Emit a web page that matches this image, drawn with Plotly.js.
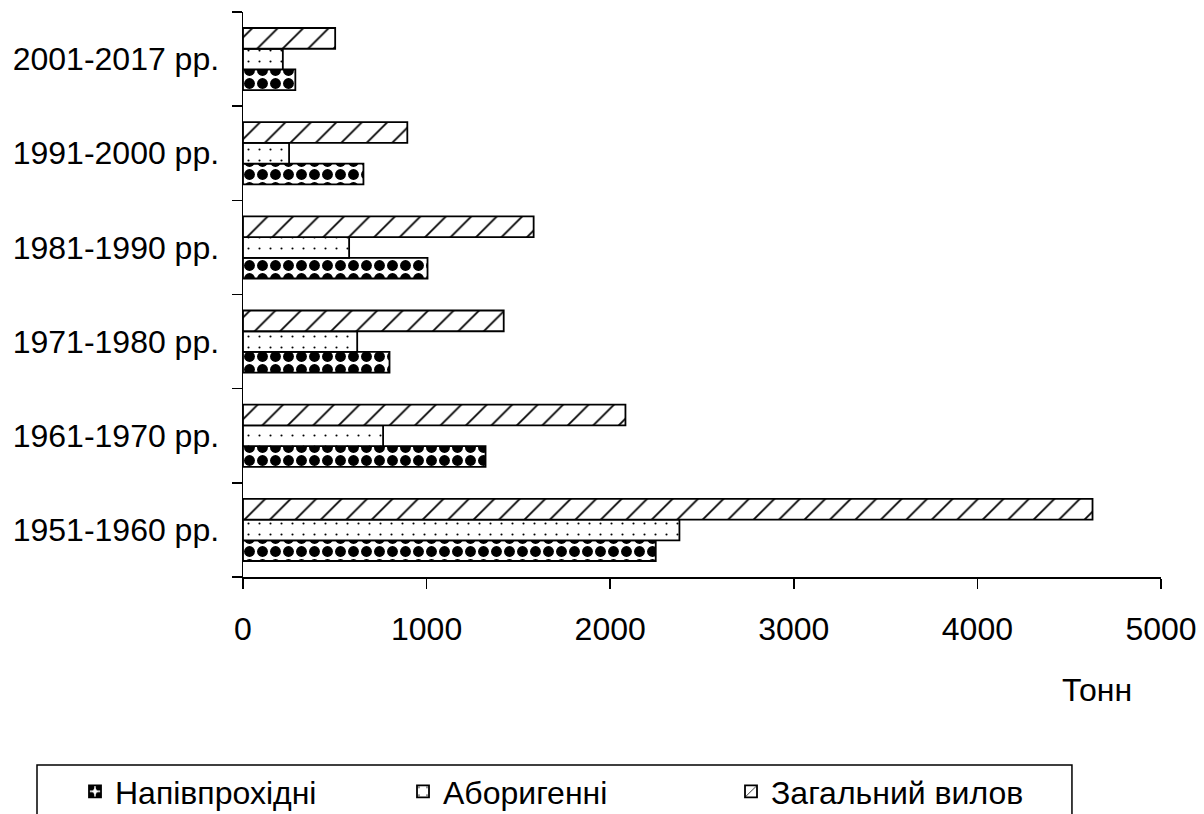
<!DOCTYPE html>
<html>
<head>
<meta charset="utf-8">
<script src="https://cdn.plot.ly/plotly-3.0.1.min.js"></script>
<style>html,body{margin:0;padding:0;background:#fff;}#chart{width:1204px;height:814px;}</style>
</head>
<body>
<div id="chart"></div>
<script>
// Categories (bottom to top)
var periods = ["1951-1960 рр.", "1961-1970 рр.", "1971-1980 рр.", "1981-1990 рр.", "1991-2000 рр.", "2001-2017 рр."];
// Series values, tonnes
var napivprokhidni = [2248, 1321, 798, 1005, 656, 285];
var aborygenni = [2377, 763, 622, 578, 251, 217];
var zagalnyiVylov = [4627, 2083, 1420, 1583, 895, 502];
var seriesNames = ["Напівпрохідні", "Аборигенні", "Загальний вилов"];
var xTicks = [0, 1000, 2000, 3000, 4000, 5000];
var unitLabel = "Тонн";

var FONT = "Liberation Sans, Arial, sans-serif";
function bar(name, vals, pattern) {
  return {
    type: "bar", orientation: "h", name: name, x: vals, y: periods,
    marker: { color: "#ffffff", line: { color: "#000000", width: 1.8 }, pattern: pattern },
    hoverinfo: "x+name"
  };
}
var data = [
  bar(seriesNames[0], napivprokhidni, { shape: ".", size: 13, solidity: 0.55, fgcolor: "#000", bgcolor: "#fff", fillmode: "replace" }),
  bar(seriesNames[1], aborygenni, { shape: ".", size: 11, solidity: 0.03, fgcolor: "#000", bgcolor: "#fff", fillmode: "replace" }),
  bar(seriesNames[2], zagalnyiVylov, { shape: "/", size: 18, solidity: 0.1, fgcolor: "#000", bgcolor: "#fff", fillmode: "replace" })
];

var layout = {
  width: 1204, height: 814,
  margin: { l: 243, r: 43, t: 12, b: 237, pad: 0, autoexpand: false },
  paper_bgcolor: "#fff", plot_bgcolor: "#fff",
  font: { family: FONT, size: 32, color: "#000" },
  barmode: "group", bargap: 0.34, bargroupgap: 0,
  showlegend: true,
  xaxis: {
    range: [0, 5000], tickvals: xTicks, ticktext: xTicks.map(String),
    showgrid: false, zeroline: false, showline: true, linecolor: "#000", linewidth: 1.5,
    ticks: "outside", ticklen: 10, tickwidth: 1.5, tickcolor: "#000",
    ticklabelstandoff: 13, tickfont: { size: 32 }, fixedrange: true
  },
  yaxis: {
    type: "category", range: [-0.5, 5.5],
    showgrid: false, zeroline: false, showline: true, linecolor: "#000", linewidth: 1.5,
    ticks: "outside", tickson: "boundaries", ticklen: 10, tickwidth: 1.5, tickcolor: "#000",
    ticklabelstandoff: 16, tickfont: { size: 32 }, fixedrange: true
  },
  legend: {
    orientation: "h", x: -0.183, y: -0.331, xanchor: "left", yanchor: "top",
    font: { size: 32 }, bgcolor: "rgba(0,0,0,0)", borderwidth: 0,
    entrywidth: 283, entrywidthmode: "pixels", traceorder: "normal"
  },
  annotations: [{
    text: unitLabel, xref: "paper", yref: "paper", x: 0.93, y: -0.2,
    xanchor: "center", yanchor: "middle", showarrow: false, font: { size: 32 }
  }],
  shapes: [{
    type: "rect", xref: "paper", yref: "paper",
    x0: -0.2244, x1: 0.903, y0: -0.3327, y1: -0.46,
    line: { color: "#000", width: 1.5 }, fillcolor: "rgba(0,0,0,0)"
  }]
};
Plotly.newPlot("chart", data, layout, { displayModeBar: false, staticPlot: true });
</script>
</body>
</html>
